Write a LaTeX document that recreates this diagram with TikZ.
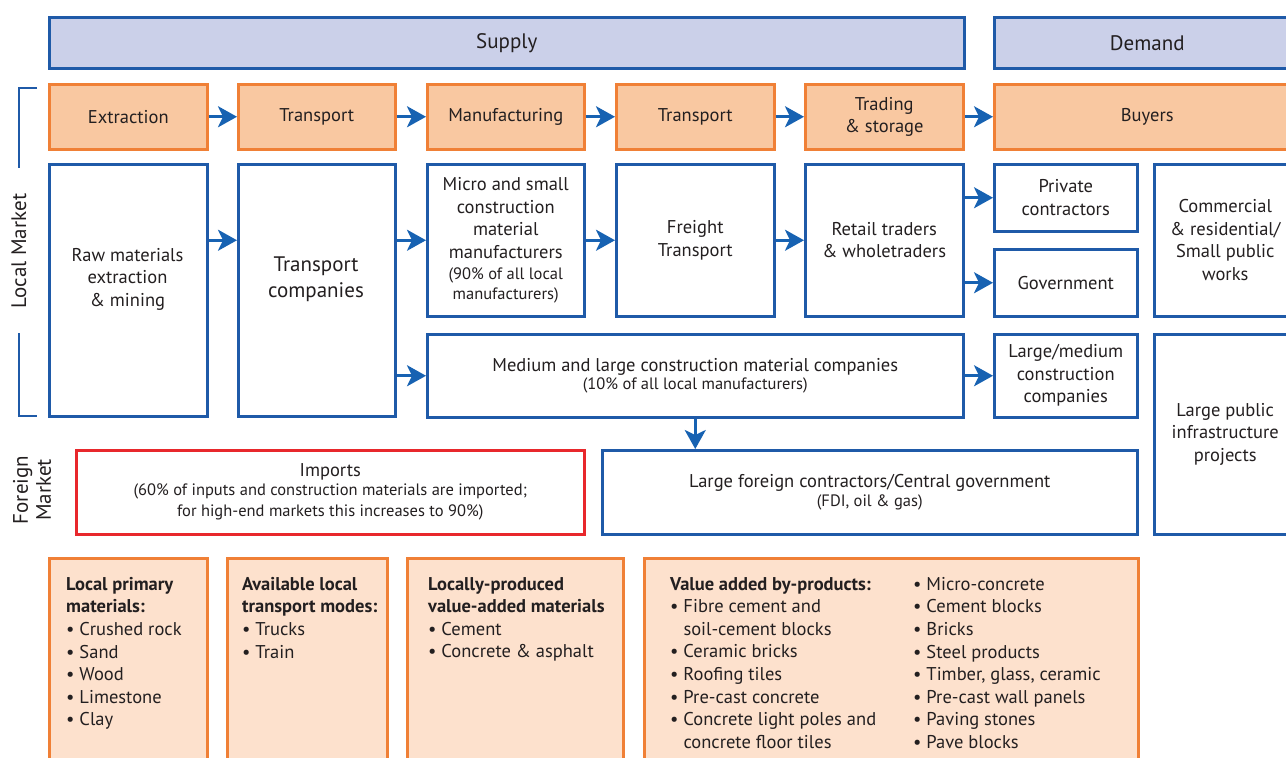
\documentclass[tikz,border=0pt]{standalone}
\usepackage{fontspec}
\setmainfont{PT Sans}
\usetikzlibrary{arrows.meta}
\definecolor{bblue}{HTML}{1F5AA8}
\definecolor{ablue}{HTML}{1762B2}
\definecolor{lav}{HTML}{CBD0E9}
\definecolor{orng}{HTML}{F08036}
\definecolor{peach}{HTML}{F9C8A1}
\definecolor{lpeach}{HTML}{FDE1CD}
\definecolor{redb}{HTML}{E8282C}
\definecolor{ink}{HTML}{231F20}
\newcommand\myfs[2]{\fontsize{#1}{#2}\selectfont}
\begin{document}
\begin{tikzpicture}[x=1pt,y=-1pt,
  every node/.append style={text=ink},
  base/.style={anchor=north west, line width=2.5pt, inner sep=0pt, align=center, font=\myfs{18.5}{22.5}},
  hdr/.style={base, draw=bblue, fill=lav, font=\myfs{21}{26}},
  stage/.style={base, draw=orng, fill=peach},
  bx/.style={base, draw=bblue, fill=white},
  redbx/.style={base, draw=redb, fill=white},
  note/.style={base, draw=orng, fill=lpeach},
  txt/.style={inner sep=0pt, align=center, font=\myfs{18.5}{22.5}},
  lst/.style={anchor=north west, inner sep=0pt, align=left, font=\myfs{18.5}{22.6}},
  arr/.style={draw=ablue, line width=2.8pt, -{Stealth[length=19pt,width=21pt,inset=5pt]}},
  brk/.style={draw=bblue, line width=2.5pt}]
\useasboundingbox (0,0) rectangle (1286,758);
\clip (0,0) rectangle (1286,758);
% headers
\node[hdr, minimum width=915, minimum height=51] (sup) at (48,16) {Supply};
\node[hdr, minimum width=306, minimum height=51] (dem) at (993,16) {Demand};
% stages
\node[stage, minimum width=158, minimum height=65] (ext) at (48,83) {Extraction};
\node[stage, minimum width=157, minimum height=65] (tr1) at (237,83) {Transport};
\node[stage, minimum width=157, minimum height=65] (man) at (426,83) {Manufacturing};
\node[stage, minimum width=158, minimum height=65] (tr2) at (615,83) {Transport};
\node[stage, minimum width=158, minimum height=65] (trd) at (804,83) {Trading\\\& storage};
\node[stage, minimum width=306, minimum height=65] (buy) at (993,83) {Buyers};
% local market boxes
\node[bx, minimum width=158, minimum height=252] (raw) at (48,163) {};
\node[txt] (rawt) at (127.5,279) {Raw materials\\extraction\\\& mining};
\node[bx, minimum width=157, minimum height=252] (tc) at (237,163) {};
\node[txt, font=\myfs{21}{26}] (tct) at (316,279) {Transport\\companies};
\node[bx, minimum width=157, minimum height=152] (mic) at (426,163) {Micro and small\\construction\\material\\manufacturers\\[-1pt]{\myfs{16.5}{20}(90\% of all local}\\[-3pt]{\myfs{16.5}{20}manufacturers)}};
\node[bx, minimum width=158, minimum height=152] (frt) at (615,163) {Freight\\Transport};
\node[bx, minimum width=158, minimum height=152] (ret) at (804,163) {Retail traders\\\& wholetraders};
\node[bx, minimum width=143, minimum height=67] (prv) at (993,163) {Private\\contractors};
\node[bx, minimum width=143, minimum height=67] (gov) at (993,248) {Government};
\node[bx, minimum width=142, minimum height=152] (com) at (1153,163) {Commercial\\\& residential/\\Small public\\works};
\node[bx, minimum width=536, minimum height=83] (med) at (426,333) {Medium and large construction material companies\\[-4pt]{\myfs{16.5}{19}(10\% of all local manufacturers)}};
\node[bx, minimum width=143, minimum height=83] (lmc) at (993,333) {Large/medium\\construction\\companies};
\node[bx, minimum width=142, minimum height=200] (lpi) at (1153,333) {Large public\\infrastructure\\projects};
% foreign market
\node[redbx, minimum width=508, minimum height=84] (imp) at (75,449) {Imports\\[-4pt]{\myfs{16.5}{19.5}(60\% of inputs and construction materials are imported;}\\[-1pt]{\myfs{16.5}{19.5}for high-end markets this increases to 90\%)}};
\node[bx, minimum width=535, minimum height=84] (frn) at (601,449) {Large foreign contractors/Central government\\[-4pt]{\myfs{16.5}{19}(FDI, oil \& gas)}};
% side labels
\node[rotate=90, inner sep=0pt, font=\myfs{21}{26}] (lml) at (19,251) {Local Market};
\node[rotate=90, inner sep=0pt, align=center, font=\myfs{21}{23}] (fml) at (32,490) {Foreign\\Market};
\coordinate (b1) at (37,88);
\coordinate (b2) at (19,168);
\coordinate (b3) at (19,333);
\coordinate (b4) at (37,416);
\draw[brk] (b1) -| (b2);
\draw[brk] (b3) |- (b4);
% notes
\node[note, minimum width=158, minimum height=220] (n1) at (48,557) {};
\node[note, minimum width=160, minimum height=220] (n2) at (226,557) {};
\node[note, minimum width=216, minimum height=220] (n3) at (406,557) {};
\node[note, minimum width=494, minimum height=220] (n4) at (643,557) {};
\node[lst] (l1) at (66,577) {\textbf{Local primary}\\\textbf{materials:}\\\textbullet\ Crushed rock\\\textbullet\ Sand\\\textbullet\ Wood\\\textbullet\ Limestone\\\textbullet\ Clay};
\node[lst] (l2) at (242,577) {\textbf{Available local}\\\textbf{transport modes:}\\\textbullet\ Trucks\\\textbullet\ Train};
\node[lst] (l3) at (428,577) {\textbf{Locally-produced}\\\textbf{value-added materials}\\\textbullet\ Cement\\\textbullet\ Concrete \& asphalt};
\node[lst] (l4) at (670,577) {\textbf{Value added by-products:}\\\textbullet\ Fibre cement and\\\hphantom{\textbullet\ }soil-cement blocks\\\textbullet\ Ceramic bricks\\\textbullet\ Roofing tiles\\\textbullet\ Pre-cast concrete\\\textbullet\ Concrete light poles and\\\hphantom{\textbullet\ }concrete floor tiles};
\node[lst] (l5) at (913,577) {\textbullet\ Micro-concrete\\\textbullet\ Cement blocks\\\textbullet\ Bricks\\\textbullet\ Steel products\\\textbullet\ Timber, glass, ceramic\\\textbullet\ Pre-cast wall panels\\\textbullet\ Paving stones\\\textbullet\ Pave blocks};
% arrows
\draw[arr] (ext.east) -- (tr1.west);
\draw[arr] (tr1.east) -- (man.west);
\draw[arr] (man.east) -- (tr2.west);
\draw[arr] (tr2.east) -- (trd.west);
\draw[arr] (trd.east) -- (buy.west);
\draw[arr] (raw.east |- mic.west) -- (tc.west |- mic.west);
\draw[arr] (tc.east |- mic.west) -- (mic.west);
\draw[arr] (tc.east |- med.west) -- (med.west);
\draw[arr] (mic.east) -- (frt.west);
\draw[arr] (frt.east) -- (ret.west);
\draw[arr] (ret.east |- prv.west) -- (prv.west);
\draw[arr] (ret.east |- gov.west) -- (gov.west);
\draw[arr] (med.east) -- (lmc.west);
\draw[arr] (med.south) -- (med.south |- frn.north);
\end{tikzpicture}
\end{document}
